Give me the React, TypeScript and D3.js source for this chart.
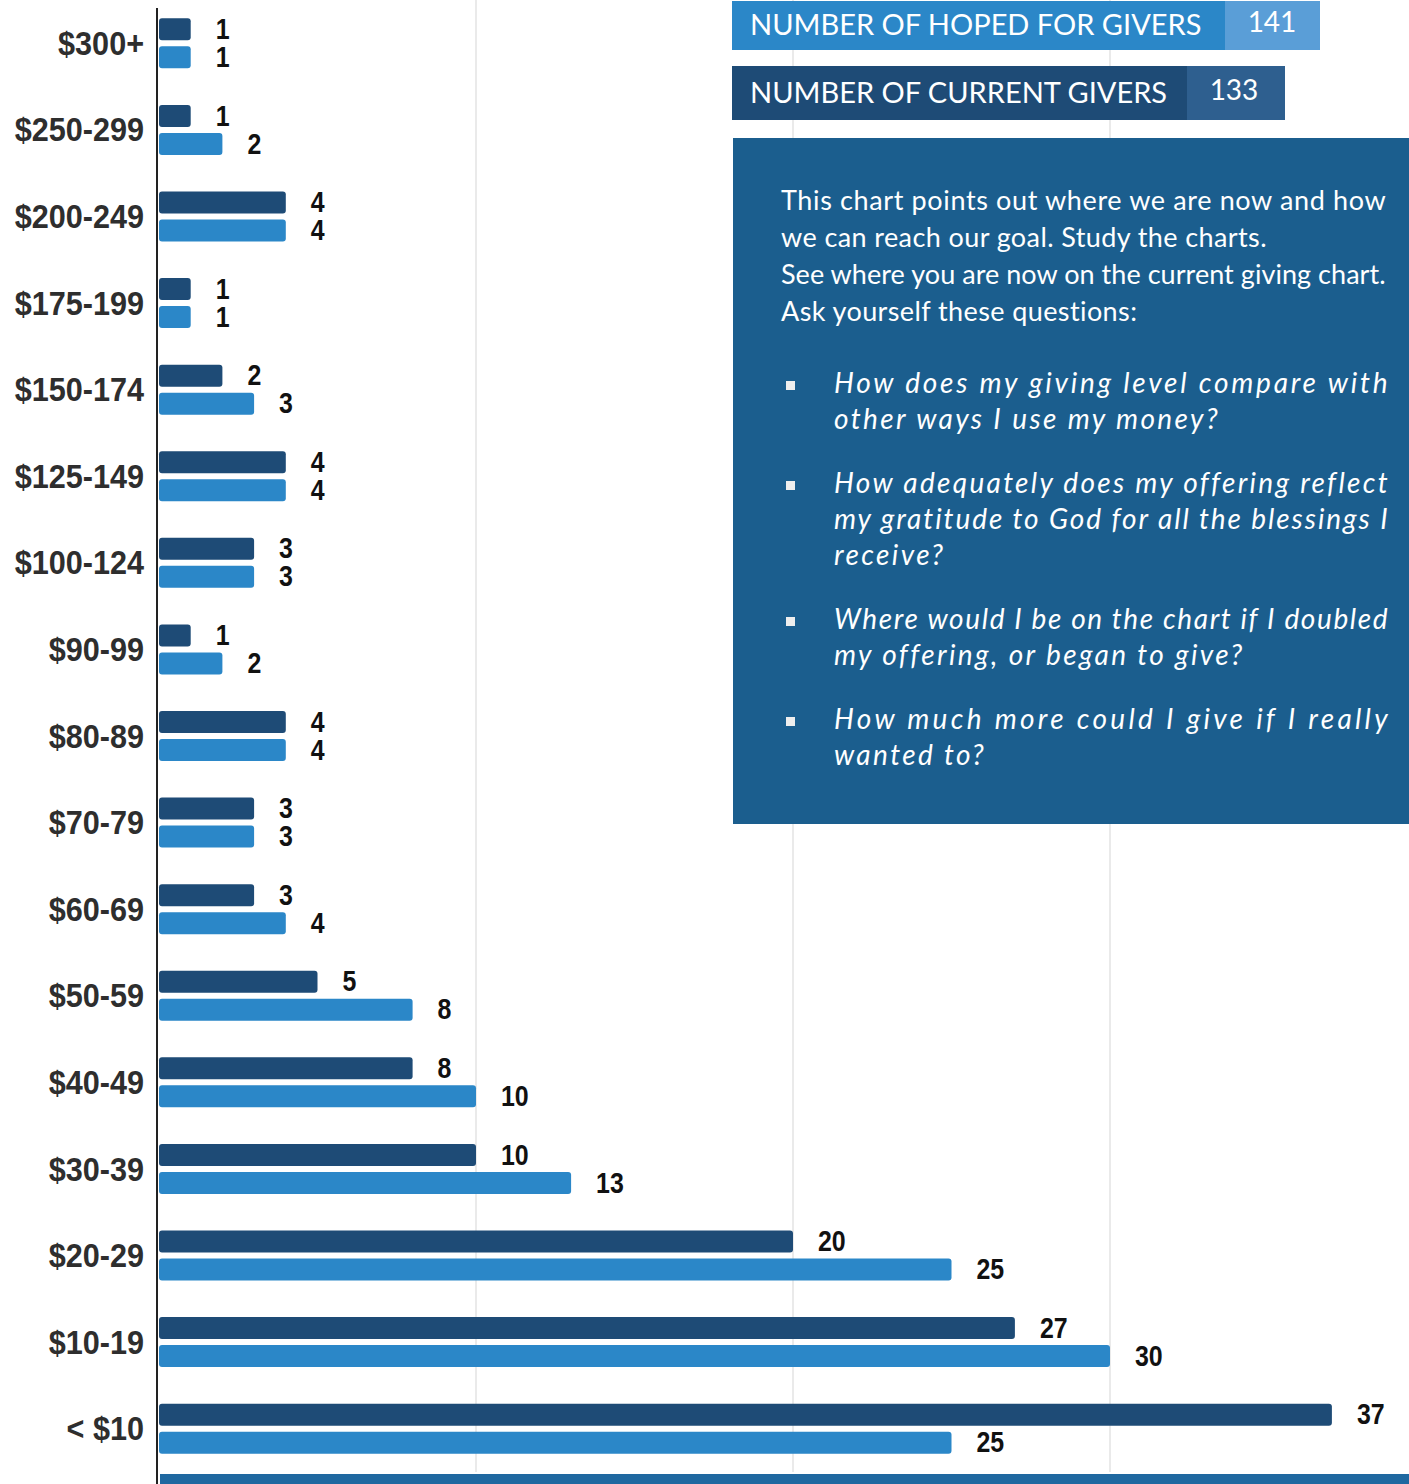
import * as d3 from "d3";

const categories = [
  "$300+", "$250-299", "$200-249", "$175-199", "$150-174", "$125-149",
  "$100-124", "$90-99", "$80-89", "$70-79", "$60-69", "$50-59",
  "$40-49", "$30-39", "$20-29", "$10-19", "< $10",
];
const currentGivers = [1, 1, 4, 1, 2, 4, 3, 1, 4, 3, 3, 5, 8, 10, 20, 27, 37];
const hopedGivers = [1, 2, 4, 1, 3, 4, 3, 2, 4, 3, 4, 8, 10, 13, 25, 30, 25];
const gridTicks = [10, 20, 30];

const hopedTotal = 141;
const currentTotal = 133;

const introLines = [
  "This chart points out where we are now and how",
  "we can reach our goal. Study the charts.",
  "See where you are now on the current giving chart.",
  "Ask yourself these questions:",
];
const questions = [
  ["How does my giving level compare with", "other ways I use my money?"],
  ["How adequately does my offering reflect", "my gratitude to God for all the blessings I", "receive?"],
  ["Where would I be on the chart if I doubled", "my offering, or began to give?"],
  ["How much more could I give if I really", "wanted to?"],
];

const W = 1409;
const H = 1484;
const DARK = "#1e4b76";
const LIGHT = "#2b87c8";
const BOX = "#1b5e8e";

const boldFont = "'Liberation Sans', Arial, sans-serif";
const bodyFont = "Lato, 'Open Sans', sans-serif";

export default function App() {
  const x = d3.scaleLinear().domain([0, 40]).range([159, 159 + 1268]);
  const y = d3.scaleBand<string>().domain(categories).range([0, 1472]);
  const mid = (c: string) => (y(c) ?? 0) + y.bandwidth() / 2;
  const barH = 22;

  const valueLabel = (v: number, cy: number) => (
    <text
      transform={`translate(${x(v) + 25},${cy}) scale(0.86,1)`}
      dominantBaseline="central"
      fontFamily={boldFont}
      fontWeight="bold"
      fontSize={29}
      fill="#111"
    >
      {v}
    </text>
  );

  // questions block layout
  let qy = 393;
  const qLayout = questions.map((lines) => {
    const start = qy;
    qy += lines.length * 36 + 28;
    return { lines, start };
  });

  return (
    <svg
      width={W}
      height={H}
      style={{ position: "absolute", left: 0, top: 0, background: "#fff" }}
    >
      {/* grid */}
      {gridTicks.map((t) => (
        <line key={t} x1={x(t)} x2={x(t)} y1={0} y2={1472} stroke="#e3e3e3" strokeWidth={1.5} />
      ))}

      {/* bars */}
      {categories.map((c, i) => {
        const m = mid(c);
        return (
          <g key={c}>
            <rect x={x(0)} y={m - 25} width={x(currentGivers[i]) - x(0)} height={barH} rx={3} fill={DARK} />
            <rect x={x(0)} y={m + 3} width={x(hopedGivers[i]) - x(0)} height={barH} rx={3} fill={LIGHT} />
            {valueLabel(currentGivers[i], m - 14)}
            {valueLabel(hopedGivers[i], m + 14)}
            <text
              transform={`translate(144,${m}) scale(0.9,1)`}
              textAnchor="end"
              dominantBaseline="central"
              fontFamily={boldFont}
              fontWeight="bold"
              fontSize={34}
              fill="#2e2e2e"
            >
              {c}
            </text>
          </g>
        );
      })}

      {/* axis line */}
      <line x1={157} x2={157} y1={8} y2={H} stroke="#222" strokeWidth={2} />

      {/* bottom band */}
      <rect x={160} y={1474} width={W - 160} height={10} fill="#1f68a0" />

      {/* header boxes */}
      <rect x={732} y={1} width={493} height={49} fill={LIGHT} />
      <rect x={1225} y={1} width={95} height={49} fill="#5a9ed7" />
      <text x={750} y={35} fontFamily={bodyFont} fontSize={29} fill="#fff">
        NUMBER OF HOPED FOR GIVERS
      </text>
      <text x={1272} y={32} textAnchor="middle" fontFamily={bodyFont} fontSize={28} fill="#fff">
        {hopedTotal}
      </text>

      <rect x={732} y={66} width={455} height={54} fill={DARK} />
      <rect x={1187} y={66} width={98} height={54} fill="#2e5f8f" />
      <text x={750} y={103} fontFamily={bodyFont} fontSize={29} fill="#fff">
        NUMBER OF CURRENT GIVERS
      </text>
      <text x={1234} y={100} textAnchor="middle" fontFamily={bodyFont} fontSize={28} fill="#fff">
        {currentTotal}
      </text>

      {/* info box */}
      <rect x={733} y={138} width={W - 733} height={686} fill={BOX} />
      {introLines.map((l, i) => {
        const full = l.length > 45;
        return (
          <text
            key={l}
            x={781}
            y={210 + i * 37}
            fontFamily={bodyFont}
            fontSize={27}
            letterSpacing={0.4}
            fill="#fff"
            {...(full ? { textLength: 1386 - 781, lengthAdjust: "spacing" } : {})}
          >
            {l}
          </text>
        );
      })}
      {qLayout.map(({ lines, start }, qi) => (
        <g key={qi}>
          <rect x={786} y={start - 12} width={9} height={9} fill="#eee" />
          {lines.map((l, li) => {
            const full = l.length > 35;
            return (
              <text
                key={l}
                x={834}
                y={start + li * 36}
                fontFamily={bodyFont}
                fontStyle="italic"
                fontSize={28}
                letterSpacing={2.4}
                fill="#fff"
                {...(full ? { textLength: 1390 - 834, lengthAdjust: "spacing" } : {})}
              >
                {l}
              </text>
            );
          })}
        </g>
      ))}
    </svg>
  );
}
